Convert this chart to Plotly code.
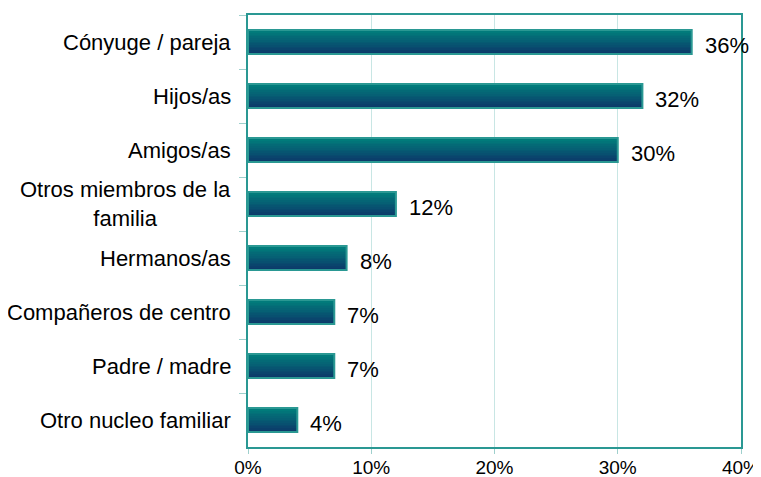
import plotly.graph_objects as go

categorias = ["Cónyuge / pareja", "Hijos/as", "Amigos/as",
              "Otros miembros de la<br>familia", "Hermanos/as",
              "Compañeros de centro", "Padre / madre", "Otro nucleo familiar"]
valores = [36, 32, 30, 12, 8, 7, 7, 4]
etiquetas = ["36%", "32%", "30%", "12%", "8%", "7%", "7%", "4%"]

font = "Arial, Liberation Sans, sans-serif"
ancho = 0.44
n = 14
top = (0, 128, 124)
bot = (12, 58, 106)

fig = go.Figure()

# fake vertical gradient: thin overlaid slices of each bar
for i in range(n):
    t = i / (n - 1)
    c = tuple(round(top[k] + (bot[k] - top[k]) * t) for k in range(3))
    fig.add_trace(go.Bar(
        x=valores, y=categorias, orientation="h",
        width=ancho / n + 0.002, offset=-ancho / 2 + i * ancho / n,
        marker=dict(color="rgb(%d,%d,%d)" % c, line=dict(width=0)),
        hoverinfo="skip", showlegend=False))

# outline
fig.add_trace(go.Bar(
    x=valores, y=categorias, orientation="h",
    width=ancho, offset=-ancho / 2,
    marker=dict(color="rgba(0,0,0,0)", line=dict(color="#2a9893", width=2)),
    showlegend=False))

for cat, v, lab in zip(categorias, valores, etiquetas):
    fig.add_annotation(x=v, y=cat, text=lab, showarrow=False,
                       xanchor="left", xshift=11, yshift=-3,
                       font=dict(family=font, size=22, color="black"))
    fig.add_annotation(x=0, xref="paper", y=cat, text=cat, showarrow=False,
                       xanchor="right", xshift=-15, align="center",
                       font=dict(family=font, size=22, color="black"))

# page body has an 8px margin, so the figure is shifted by 8px
fig.update_layout(
    width=753, height=469,
    margin=dict(l=240, r=20, t=7, b=30),
    barmode="overlay",
    plot_bgcolor="white", paper_bgcolor="white",
    font=dict(family=font, size=19, color="black"),
)
fig.update_xaxes(range=[0, 40], tickvals=[0, 10, 20, 30, 40],
                 ticktext=["0%", "10%", "20%", "30%", "40%"],
                 showgrid=True, gridcolor="#c8e6e4", gridwidth=1,
                 showline=True, linecolor="#2a9893", linewidth=2, mirror=True,
                 ticks="outside", ticklen=5, tickcolor="#9fd0cd",
                 ticklabelstandoff=-3,
                 zeroline=False, tickfont=dict(size=19), automargin=False)
fig.update_yaxes(autorange="reversed", showticklabels=False,
                 showline=True, linecolor="#2a9893", linewidth=2, mirror=True,
                 ticks="outside", tickson="boundaries", ticklen=7,
                 tickcolor="#9fd0cd", showgrid=False, automargin=False)

fig.write_html("out.html")
